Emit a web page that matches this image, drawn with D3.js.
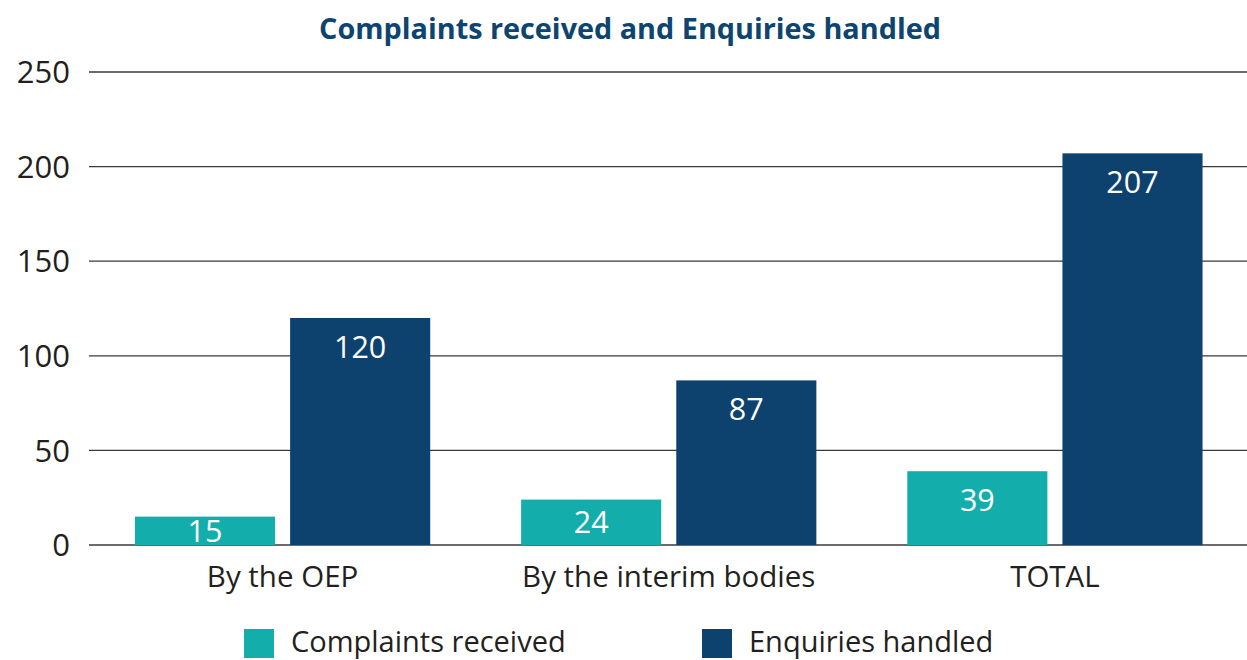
<!DOCTYPE html>
<head>
  <meta charset="utf-8">
  <title>complaints.html</title>
</head>
<style>
body { margin: 0; background: #fff; }
text { font-family: "Open Sans", sans-serif; }
.title { font-weight: 700; fill: #0d4470; }
.grid line { stroke: #3a3a3a; stroke-width: 1.3; }
.tick-label, .cat-label, .legend-label { fill: #231f20; }
</style>
<svg width="1247" height="660"></svg>
<script src="https://d3js.org/d3.v7.min.js"></script>
<script>
var categories = ["By the OEP", "By the interim bodies", "TOTAL"];
var seriesNames = ["Complaints received", "Enquiries handled"];
var complaints = [15, 24, 39];
var enquiries = [120, 87, 207];
var yTicks = [0, 50, 100, 150, 200, 250];
var colors = ["#13aeab", "#0d426f"];

var svg = d3.select("svg"),
    margin = { top: 72, bottom: 115, right: -1, left: 89.5 },
    width = +svg.attr("width"),
    height = +svg.attr("height");

var x0 = d3.scaleBand()
    .domain(categories)
    .range([margin.left, width - margin.right])
    .paddingInner(0)
    .paddingOuter(0);

var x1 = d3.scaleBand()
    .domain(seriesNames)
    .range([0, x0.bandwidth()])
    .paddingInner(0.097)
    .paddingOuter(0.293);

var y = d3.scaleLinear()
    .domain([0, 250])
    .range([height - margin.bottom, margin.top]);

// title
svg.append("text")
    .attr("class", "title")
    .attr("x", 630)
    .attr("y", 39)
    .attr("text-anchor", "middle")
    .style("font-size", "28.8px")
    .text("Complaints received and Enquiries handled");

// gridlines + y labels
var grid = svg.append("g").attr("class", "grid");
grid.selectAll("line")
  .data(yTicks)
  .enter().append("line")
    .attr("x1", 89)
    .attr("x2", width)
    .attr("y1", function(d) { return y(d); })
    .attr("y2", function(d) { return y(d); });

svg.selectAll(".tick-label")
  .data(yTicks)
  .enter().append("text")
    .attr("class", "tick-label")
    .attr("x", 70)
    .attr("y", function(d) { return y(d); })
    .attr("dy", "0.36em")
    .attr("text-anchor", "end")
    .style("font-size", "31px")
    .text(function(d) { return d; });

var rows = categories.map(function(c, i) {
  return { cat: c, values: [complaints[i], enquiries[i]] };
});

var groups = svg.selectAll(".group")
  .data(rows)
  .enter().append("g")
    .attr("class", "group")
    .attr("transform", function(d) { return "translate(" + x0(d.cat) + ",0)"; });

var bars = groups.selectAll(".bar")
  .data(function(d) {
    return d.values.map(function(v, j) { return { name: seriesNames[j], value: v, j: j }; });
  })
  .enter();

bars.append("rect")
    .attr("class", "bar")
    .attr("x", function(d) { return x1(d.name); })
    .attr("width", x1.bandwidth())
    .attr("y", function(d) { return y(d.value); })
    .attr("height", function(d) { return y(0) - y(d.value); })
    .attr("fill", function(d) { return colors[d.j]; });

bars.append("text")
    .attr("x", function(d) { return x1(d.name) + x1.bandwidth() / 2; })
    .attr("y", function(d) {
      var top = y(d.value), mid = (y(d.value) + y(0)) / 2;
      return Math.min(top + 29, mid);
    })
    .attr("dy", "0.36em")
    .attr("text-anchor", "middle")
    .attr("fill", "#fff")
    .style("font-size", "30.5px")
    .text(function(d) { return d.value; });

// category labels
svg.selectAll(".cat-label")
  .data(categories)
  .enter().append("text")
    .attr("class", "cat-label")
    .attr("x", function(d) { return x0(d) + x0.bandwidth() / 2; })
    .attr("y", 587)
    .attr("text-anchor", "middle")
    .style("font-size", "29.5px")
    .text(function(d) { return d; });

// legend
var legendX = [244, 702];
var legend = svg.selectAll(".legend")
  .data(seriesNames)
  .enter().append("g")
    .attr("class", "legend")
    .attr("transform", function(d, i) { return "translate(" + legendX[i] + ",629)"; });

legend.append("rect")
    .attr("width", 30)
    .attr("height", 29)
    .attr("fill", function(d, i) { return colors[i]; });

legend.append("text")
    .attr("class", "legend-label")
    .attr("x", 47)
    .attr("y", 23)
    .style("font-size", "29px")
    .text(function(d) { return d; });
</script>
